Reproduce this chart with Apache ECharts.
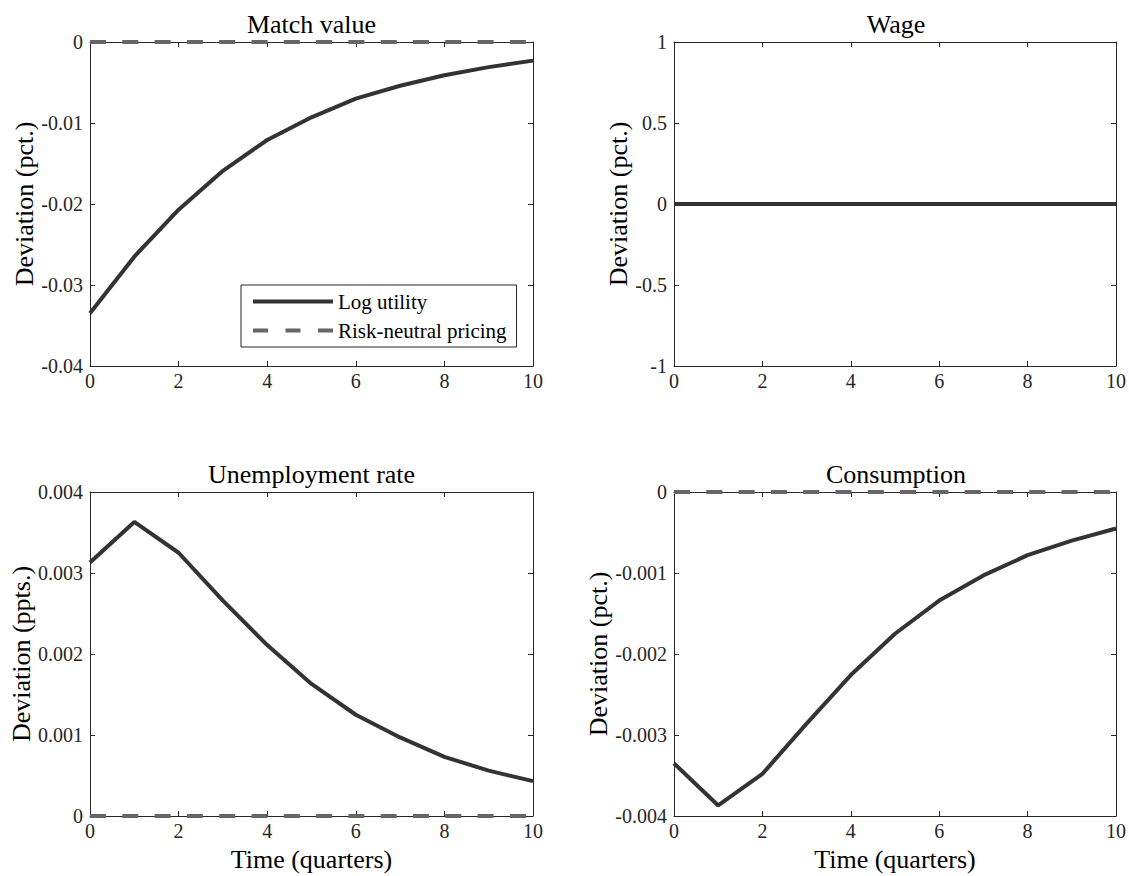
<!DOCTYPE html>
<html>
<head>
<meta charset="utf-8">
<script src="https://cdn.jsdelivr.net/npm/echarts@6/dist/echarts.min.js"></script>
<style>
html,body{margin:0;padding:0;background:#fff;}
#chart{width:1129px;height:876px;}
</style>
</head>
<body>
<div id="chart"></div>
<script>
// ---- data ----
const quarters = [0, 1, 2, 3, 4, 5, 6, 7, 8, 9, 10];
const matchLog = [-0.0335, -0.0265, -0.0207, -0.0159, -0.0121, -0.0093, -0.0070, -0.0054, -0.0041, -0.0031, -0.0023];
const matchRN  = [0, 0, 0, 0, 0, 0, 0, 0, 0, 0, 0];
const wageLog  = [0, 0, 0, 0, 0, 0, 0, 0, 0, 0, 0];
const wageRN   = [0, 0, 0, 0, 0, 0, 0, 0, 0, 0, 0];
const unempLog = [0.00313, 0.00363, 0.00325, 0.00266, 0.00211, 0.00163, 0.00125, 0.00097, 0.00073, 0.00056, 0.00043];
const unempRN  = [0, 0, 0, 0, 0, 0, 0, 0, 0, 0, 0];
const consLog  = [-0.00335, -0.00387, -0.00348, -0.00286, -0.00226, -0.00175, -0.00134, -0.00103, -0.00078, -0.00060, -0.00045];
const consRN   = [0, 0, 0, 0, 0, 0, 0, 0, 0, 0, 0];

const panelTitles = ['Match value', 'Wage', 'Unemployment rate', 'Consumption'];
const yLabels = ['Deviation (pct.)', 'Deviation (pct.)', 'Deviation (ppts.)', 'Deviation (pct.)'];
const xLabel = 'Time (quarters)';
const seriesNames = ['Log utility', 'Risk-neutral pricing'];
const yMin = [-0.04, -1, 0, -0.004];
const yMax = [0, 1, 0.004, 0];
const yStep = [0.01, 0.5, 0.001, 0.001];
const xTicks = [0, 2, 4, 6, 8, 10];
const solidData = [matchLog, wageLog, unempLog, consLog];
const dashData = [matchRN, wageRN, unempRN, consRN];

// ---- layout ----
const FONT = "'Liberation Serif', 'Times New Roman', serif";
const AX = '#262626';
const grids = [
  {left: 90, top: 42, width: 443, height: 324},
  {left: 674, top: 42, width: 444, height: 324},
  {left: 90, top: 492, width: 443, height: 324},
  {left: 674, top: 492, width: 444, height: 324}
];
const yNameGap = [53, 42, 55, 62];

const xAxes = [], yAxes = [], series = [], graphics = [];
grids.forEach((g, i) => {
  const tick = {show: true, inside: true, length: 5, lineStyle: {color: AX, width: 1}};
  const line = {show: true, onZero: false, lineStyle: {color: AX, width: 1}};
  xAxes.push({
    gridIndex: i, type: 'value', min: xTicks[0], max: xTicks[xTicks.length - 1], interval: 2,
    position: 'bottom', axisLine: line, axisTick: tick, splitLine: {show: false},
    axisLabel: {show: true, margin: 5, color: AX, fontFamily: FONT, fontSize: 20},
    name: i >= 2 ? xLabel : '', nameLocation: 'middle', nameGap: 30,
    nameTextStyle: {fontFamily: FONT, fontSize: 26, color: '#000'}
  });
  xAxes.push({
    gridIndex: i, type: 'value', min: xTicks[0], max: xTicks[xTicks.length - 1], interval: 2,
    position: 'top', axisLine: line, axisTick: tick, splitLine: {show: false},
    axisLabel: {show: false}
  });
  yAxes.push({
    gridIndex: i, type: 'value', min: yMin[i], max: yMax[i], interval: yStep[i],
    position: 'left', axisLine: line, axisTick: tick, splitLine: {show: false},
    axisLabel: {show: true, margin: 7, color: AX, fontFamily: FONT, fontSize: 20,
      formatter: v => String(+v.toFixed(4))},
    name: yLabels[i], nameLocation: 'middle', nameGap: yNameGap[i],
    nameTextStyle: {fontFamily: FONT, fontSize: 26, color: '#000'}
  });
  yAxes.push({
    gridIndex: i, type: 'value', min: yMin[i], max: yMax[i], interval: yStep[i],
    position: 'right', axisLine: line, axisTick: tick, splitLine: {show: false},
    axisLabel: {show: false}
  });
  series.push({
    name: seriesNames[1], type: 'line', xAxisIndex: 2 * i, yAxisIndex: 2 * i,
    data: quarters.map((q, k) => [q, dashData[i][k]]),
    symbol: 'none', showSymbol: false, clip: false, z: 3, animation: false,
    lineStyle: {color: '#666666', width: 4, type: [16, 16.3], cap: 'butt'},
    itemStyle: {color: '#666666'}
  });
  series.push({
    name: seriesNames[0], type: 'line', xAxisIndex: 2 * i, yAxisIndex: 2 * i,
    data: quarters.map((q, k) => [q, solidData[i][k]]),
    symbol: 'none', showSymbol: false, clip: false, z: 4, animation: false,
    lineStyle: {color: '#333333', width: 4, type: 'solid'},
    itemStyle: {color: '#333333'}
  });
  graphics.push({
    type: 'text', x: g.left + g.width / 2, y: g.top - 5,
    style: {text: panelTitles[i], textAlign: 'center', textVerticalAlign: 'bottom',
      font: '26px ' + FONT, fill: '#000'}
  });
});

const chart = echarts.init(document.getElementById('chart'), null, {renderer: 'svg'});
chart.setOption({
  animation: false,
  backgroundColor: '#ffffff',
  grid: grids.map(g => Object.assign({containLabel: false}, g)),
  xAxis: xAxes,
  yAxis: yAxes,
  series: series,
  graphic: graphics,
  legend: {
    data: [
      {name: seriesNames[0]},
      {name: seriesNames[1], lineStyle: {type: [15, 17.5], width: 4, color: '#666666'}}
    ],
    orient: 'vertical', left: 241, top: 285,
    backgroundColor: '#ffffff', borderColor: AX, borderWidth: 1, borderRadius: 0,
    padding: [6, 10, 6, 10], itemGap: 8, itemWidth: 80, itemHeight: 20,
    selectedMode: false,
    itemStyle: {opacity: 0, borderWidth: 0},
    lineStyle: {width: 4},
    textStyle: {fontFamily: FONT, fontSize: 21, color: '#000'}
  }
});
</script>
</body>
</html>
